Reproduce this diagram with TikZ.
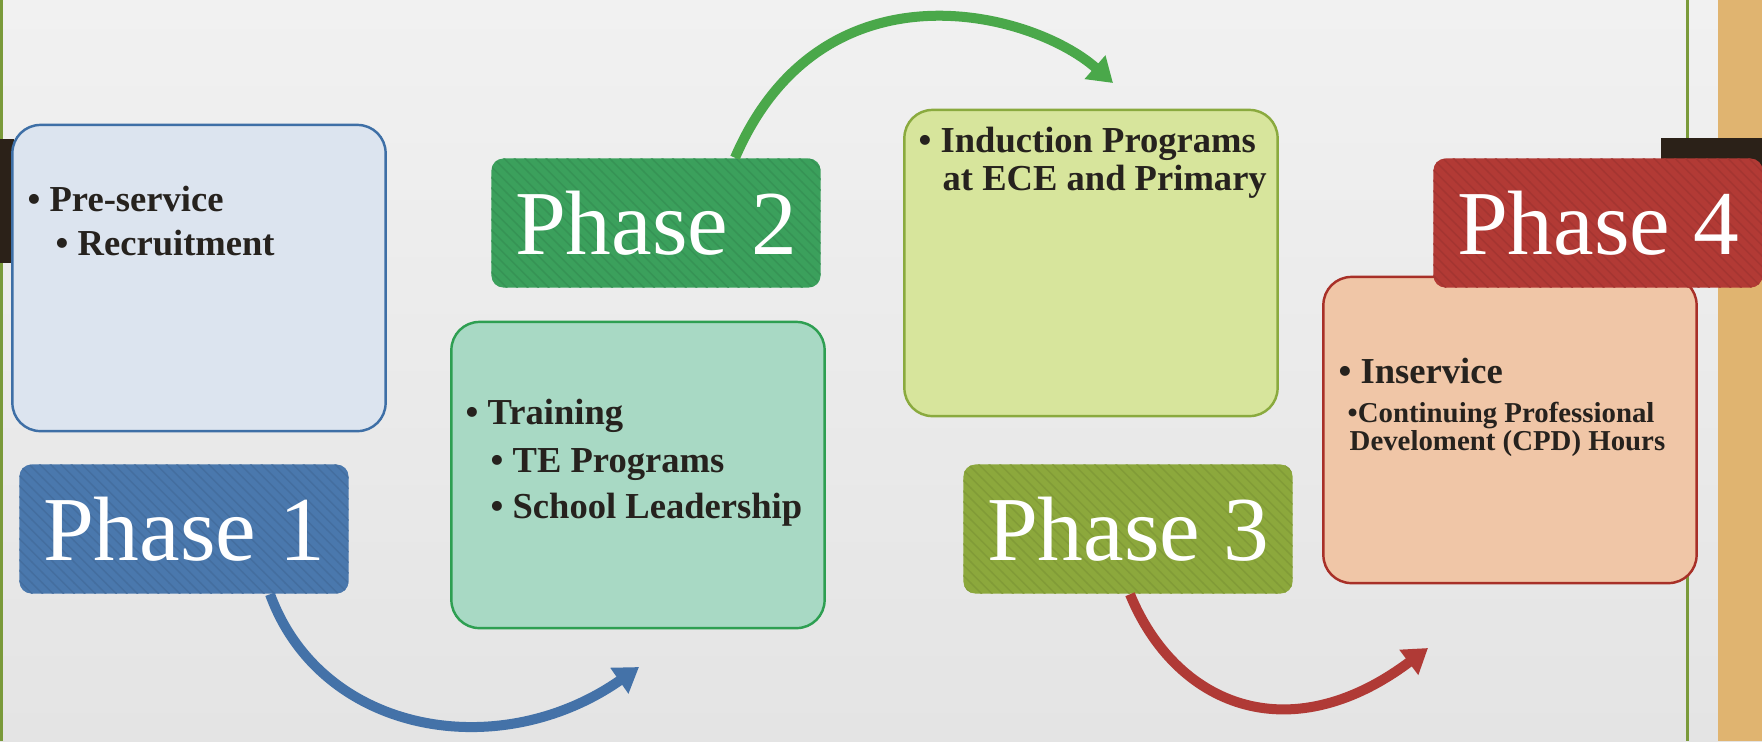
\documentclass[tikz,border=0pt]{standalone}
\usepackage{fontspec}
\setmainfont{Liberation Serif}
\usepackage{tikz}
\definecolor{Ph1}{RGB}{74,120,173}
\definecolor{Ph2}{RGB}{59,160,92}
\definecolor{Ph3}{RGB}{140,168,60}
\definecolor{Ph4}{RGB}{178,58,53}
\definecolor{Bx1}{RGB}{220,228,239}
\definecolor{Bx1l}{RGB}{62,111,166}
\definecolor{Bx2}{RGB}{168,217,196}
\definecolor{Bx2l}{RGB}{46,159,82}
\definecolor{Bx3}{RGB}{215,229,156}
\definecolor{Bx3l}{RGB}{138,170,62}
\definecolor{Bx4}{RGB}{240,198,167}
\definecolor{Bx4l}{RGB}{168,48,40}
\definecolor{Arr1}{RGB}{68,114,168}
\definecolor{Arr2}{RGB}{74,168,74}
\definecolor{Arr3}{RGB}{176,58,54}
\definecolor{Txt}{RGB}{38,34,30}
\definecolor{Bgtop}{RGB}{241,241,241}
\definecolor{Bgbot}{RGB}{228,228,228}
\definecolor{Tan}{RGB}{224,180,112}
\definecolor{Brwn}{RGB}{43,33,24}
\definecolor{Rule}{RGB}{122,154,58}
\usetikzlibrary{arrows.meta, patterns}

\begin{document}
\begin{tikzpicture}[x=0.01cm, y=-0.01cm,
    phase/.style={rounded corners=0.12cm, minimum width=3.29cm,
                  minimum height=1.29cm, inner sep=0,
                  font=\fontsize{26}{26}\selectfont},
    stripes/.style={postaction={pattern=north west lines, pattern color=#1}},
    info/.style={rounded corners=0.28cm, line width=0.7pt,
                 minimum width=3.73cm, minimum height=3.06cm},
    item/.style={anchor=base west, inner sep=0, text=Txt,
                 font=\fontsize{10.4}{12}\selectfont\bf},
    small/.style={item, font=\fontsize{8.2}{9}\selectfont\bf},
    phasearrow/.style={line width=0.1cm, -{Triangle[width=0.3cm, length=0.24cm]}}
    ]
    \useasboundingbox (0,0) rectangle (1762,741);
    \shade[top color=Bgtop, bottom color=Bgbot] (0,0) rectangle (1762,741);
    \fill[Tan] (1718,0) rectangle (1762,741);
    \fill[Rule] (0,0) rectangle (3,741);
    \fill[Rule] (1686,0) rectangle (1689,741);
    \fill[Brwn] (0,139) rectangle (14,263);
    \fill[Brwn] (1661,138) rectangle (1762,180);

    \node (box1) [info, draw=Bx1l, fill=Bx1] at (199,278) {};
    \node (box2) [info, draw=Bx2l, fill=Bx2] at (638,475) {};
    \node (box3) [info, draw=Bx3l, fill=Bx3] at (1091,263) {};
    \node (box4) [info, draw=Bx4l, fill=Bx4] at (1510,430) {};

    \node (ph1) [phase, fill=Ph1, stripes=Ph1!92!black] at (184,529)
            {\color{white} Phase 1};
    \node (ph2) [phase, fill=Ph2, stripes=Ph2!92!black] at (656,223)
            {\color{white} Phase 2};
    \node (ph3) [phase, fill=Ph3, stripes=Ph3!92!black] at (1128,529)
            {\color{white} Phase 3};
    \node (ph4) [phase, fill=Ph4, stripes=Ph4!92!black] at (1598,223)
            {\color{white} Phase 4};

    \coordinate (a1) at (639,667);
    \coordinate (a2) at (1113,83);
    \coordinate (a3) at (1428,648);
    \draw[phasearrow, Arr1] ([xshift=0.86cm]ph1.south) .. controls (321,734) and (499,765) .. (a1);
    \draw[phasearrow, Arr2] ([xshift=0.79cm]ph2.north) .. controls (821,-42) and (1030,10) .. (a2);
    \draw[phasearrow, Arr3] ([xshift=0.02cm]ph3.south) .. controls (1175,704) and (1288,753) .. (a3);

    \node (t1a) [item] at (27,211) {• Pre-service};
    \node (t1b) [item] at (55,255) {• Recruitment};
    \node (t2a) [item] at (465,424) {• Training};
    \node (t2b) [item] at (490,472) {• TE Programs};
    \node (t2c) [item] at (490,518) {• School Leadership};
    \node (t3a) [item] at (918,152) {• Induction Programs};
    \node (t3b) [item] at (942,190) {at ECE and Primary};
    \node (t4a) [item] at (1338,383) {• Inservice};
    \node (t4b) [small] at (1347,422) {•Continuing Professional};
    \node (t4c) [small] at (1349,450) {Develoment (CPD) Hours};
\end{tikzpicture}
\end{document}
